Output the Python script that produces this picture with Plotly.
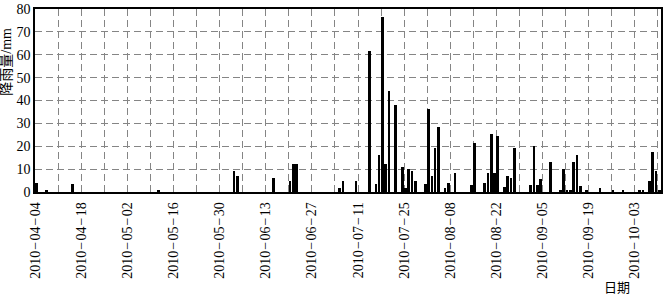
import pandas as pd
import plotly.graph_objects as go

dates = ["2010-04-04", "2010-04-07", "2010-04-15", "2010-05-11", "2010-06-03", "2010-06-04",
         "2010-06-15", "2010-06-20", "2010-06-21", "2010-06-22", "2010-07-05", "2010-07-06",
         "2010-07-10", "2010-07-14", "2010-07-16", "2010-07-17", "2010-07-18", "2010-07-19",
         "2010-07-20", "2010-07-22", "2010-07-24", "2010-07-25", "2010-07-26", "2010-07-27",
         "2010-07-28", "2010-07-31", "2010-08-01", "2010-08-02", "2010-08-03", "2010-08-04",
         "2010-08-06", "2010-08-07", "2010-08-09", "2010-08-14", "2010-08-15", "2010-08-18",
         "2010-08-19", "2010-08-20", "2010-08-21", "2010-08-22", "2010-08-24", "2010-08-25",
         "2010-08-26", "2010-08-27", "2010-09-01", "2010-09-02", "2010-09-03", "2010-09-04",
         "2010-09-07", "2010-09-10", "2010-09-11", "2010-09-12", "2010-09-13", "2010-09-14",
         "2010-09-15", "2010-09-16", "2010-09-18", "2010-09-22", "2010-09-26", "2010-09-29",
         "2010-10-04", "2010-10-05", "2010-10-07", "2010-10-08", "2010-10-09", "2010-10-10"]
rain = [4.0, 1.0, 3.3, 1.0, 9.1, 6.9,
        6.0, 5.0, 12.3, 12.3, 1.9, 5.0,
        5.0, 61.5, 3.3, 16.1, 76.5, 12.3,
        44.0, 38.2, 11.0, 1.9, 10.0, 9.3,
        5.0, 3.3, 36.5, 7.0, 19.3, 28.3,
        1.9, 4.1, 8.3, 3.1, 21.3, 4.1,
        8.3, 25.4, 8.3, 24.4, 2.1, 7.0,
        6.1, 19.3, 3.1, 20.3, 3.1, 5.7,
        13.3, 1.0, 10.0, 0.7, 0.7, 13.3,
        16.3, 2.6, 0.7, 1.9, 1.0, 0.7,
        0.7, 1.0, 4.6, 17.4, 9.1, 0.7]

x_start = "2010-04-04"
x_end = "2010-10-10 22:00"
y_ticks = [0, 10, 20, 30, 40, 50, 60, 70, 80]

DAY = 86400000
font_main = "Liberation Serif, Noto Sans CJK SC, serif"
grid_col = "#858585"
dash = "7px,4px"

fig = go.Figure()
fig.add_trace(go.Bar(
    x=pd.to_datetime(dates), y=rain,
    width=0.8 * DAY, offset=0,
    marker=dict(color="black", line=dict(width=0)),
))

fig.update_layout(
    width=665, height=296,
    margin=dict(l=35, r=2, t=5, b=104),
    plot_bgcolor="white", paper_bgcolor="white",
    showlegend=False,
    font=dict(family=font_main, size=13, color="black"),
    bargap=0,
)
fig.update_xaxes(
    type="date", range=[x_start, x_end],
    tick0=x_start, dtick=14 * DAY, tickformat="%Y\u200a\u2212\u200a%m\u200a\u2212\u200a%d",
    tickangle=-90, tickfont=dict(size=14, family=font_main),
    showgrid=True, gridcolor=grid_col, griddash=dash, gridwidth=1,
    minor=dict(dtick=7 * DAY, tick0=x_start, showgrid=True, gridcolor=grid_col,
               griddash=dash, gridwidth=1),
    showline=True, linecolor="black", linewidth=1.5, mirror=True,
    ticks="", zeroline=False, ticklabeloverflow="allow", ticklabelstandoff=3,
)
fig.update_yaxes(
    range=[0, 80], tickvals=y_ticks,
    tickfont=dict(size=14, family=font_main),
    showgrid=True, gridcolor=grid_col, griddash=dash, gridwidth=1,
    showline=True, linecolor="black", linewidth=1.5, mirror=True,
    ticks="", zeroline=False, ticklabeloverflow="allow",
)
fig.add_annotation(
    text="降雨量/mm", textangle=-90, xref="paper", yref="paper",
    x=-0.046, y=0.713, xanchor="center", yanchor="middle", showarrow=False,
    font=dict(size=14, family=font_main),
)
fig.add_annotation(
    text="日期", xref="paper", yref="paper",
    x=0.93, y=-0.52, xanchor="center", yanchor="middle", showarrow=False,
    font=dict(size=13, family=font_main),
)

fig.write_html("out.html")
